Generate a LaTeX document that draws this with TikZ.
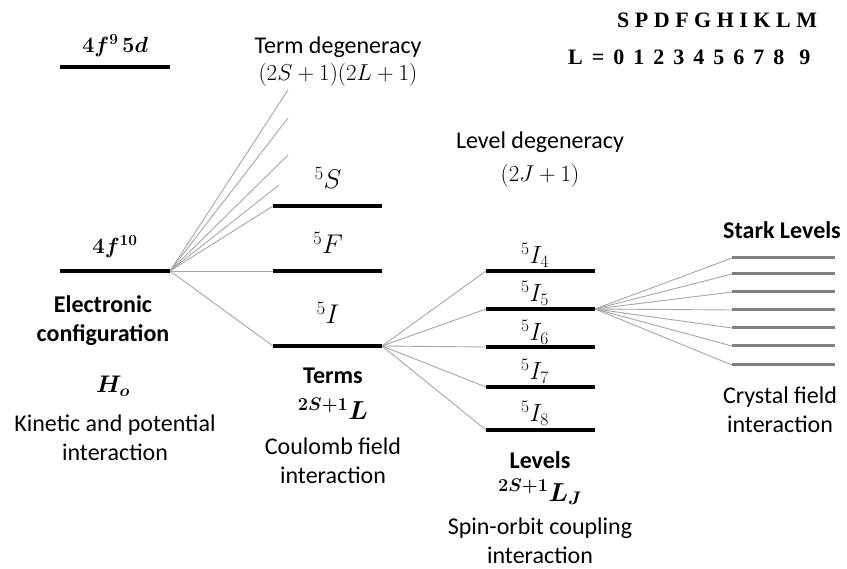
\RequirePackage{fix-cm}
\documentclass[tikz,border=0pt]{standalone}
\usepackage{fontspec}
\usepackage{bm}
\newfontfamily\cfont{Carlito}
\newfontfamily\tnrfont{Liberation Serif}
\begin{document}
\begin{tikzpicture}[x=1pt,y=-1pt,
  bar/.style={line width=4.5pt},
  sbar/.style={line width=3pt, draw=black!50},
  conn/.style={draw=black!35, line width=0.9pt},
  txt/.style={font=\cfont\fontsize{24}{29}\selectfont, align=center, inner sep=0pt},
  btxt/.style={font=\cfont\bfseries\fontsize{24}{29}\selectfont, align=center, inner sep=0pt},
  mtxt/.style={font=\fontsize{23}{28}\selectfont, inner sep=0pt},
  tlab/.style={font=\fontsize{27}{32}\selectfont, inner sep=0pt, anchor=base},
  llab/.style={font=\fontsize{25}{29}\selectfont, inner sep=0pt, anchor=base},
  rowtxt/.style={font=\tnrfont\bfseries\fontsize{22}{26}\selectfont, inner sep=0pt, anchor=west}
  ]
\useasboundingbox (0,0) rectangle (847,569);

% coordinates of bars
\coordinate (a9L) at (60,67);   \coordinate (a9R) at (170,67);
\coordinate (a10L) at (60,271); \coordinate (a10R) at (170,271);
\coordinate (tSL) at (273,206); \coordinate (tSR) at (382,206);
\coordinate (tFL) at (273,271); \coordinate (tFR) at (382,271);
\coordinate (tIL) at (273,346); \coordinate (tIR) at (382,346);
\coordinate (f1) at (288,90);
\coordinate (f2) at (288,118);
\coordinate (f3) at (288,155);
\coordinate (f4) at (279,185);
\foreach \n/\y in {4/271,5/309,6/347,7/387,8/430}{
  \coordinate (l\n L) at (486,\y); \coordinate (l\n R) at (595,\y);
}
\foreach \n/\y in {1/258,2/274,3/292,4/310,5/328,6/346,7/365}{
  \coordinate (s\n L) at (732,\y); \coordinate (s\n R) at (835,\y);
}

% connectors
\foreach \t in {f1,f2,f3,f4,tSL,tFL,tIL} \draw[conn] (a10R) -- (\t);
\foreach \n in {4,5,6,7,8} \draw[conn] (tIR) -- (l\n L);
\foreach \n in {1,...,7} \draw[conn] (l5R) -- (s\n L);

% bars
\draw[bar] (a9L) -- (a9R);
\draw[bar] (a10L) -- (a10R);
\draw[bar] (tSL) -- (tSR);
\draw[bar] (tFL) -- (tFR);
\draw[bar] (tIL) -- (tIR);
\foreach \n in {4,...,8} \draw[bar] (l\n L) -- (l\n R);
\foreach \n in {1,...,7} \draw[sbar] (s\n L) -- (s\n R);

% left column
\node[mtxt, font=\fontsize{22}{26}\selectfont] (c9) at (115,46) {$\bm{4f^{9}\,5d}$};
\node[mtxt, font=\fontsize{22}{26}\selectfont] (c10) at (115,247) {$\bm{4f^{10}}$};
\node[btxt] (ec) at (103,321) {Electronic\\configuration};
\node[mtxt, font=\fontsize{24}{28}\selectfont] (ho) at (113,386) {$\bm{H_o}$};
\node[txt] (kin) at (115,438) {Kinetic and potential\\interaction};

% term column
\node[txt] (tdeg) at (338,47) {Term degeneracy};
\node[mtxt] (tdegf) at (338,75) {$(2S+1)(2L+1)$};
\node[tlab] (lS) at (328,189) {$^5S$};
\node[tlab] (lF) at (328,254) {$^5F$};
\node[tlab] (lI) at (328,324) {$^5I$};
\node[btxt] (terms) at (333,376) {Terms};
\node[mtxt, font=\fontsize{26}{30}\selectfont] (tsym) at (333,409) {$\bm{{}^{2S+1}L}$};
\node[txt] (coul) at (333,461) {Coulomb field\\interaction};

% level column
\node[txt] (ldeg) at (540,142) {Level degeneracy};
\node[mtxt] (ldegf) at (540,176) {$(2J+1)$};
\foreach \n/\y in {4/264,5/302,6/341,7/380,8/422}{
  \node[llab] (lab\n) at (535,\y) {$^5I_{\n}$};
}
\node[btxt] (lev) at (540,460) {Levels};
\node[mtxt, font=\fontsize{26}{30}\selectfont] (lsym) at (540,492) {$\bm{{}^{2S+1}L_J}$};
\node[txt] (so) at (540,541) {Spin-orbit coupling\\interaction};

% stark column
\node[btxt] (stark) at (782,230) {Stark Levels};
\node[txt] (cf) at (780,410) {Crystal field\\interaction};

% top right
\node[rowtxt] (row1) at (617,20) {S P D F G H I K L M};
\node[rowtxt] (row2) at (568,57) {\spaceskip=9pt\relax L = 0 1 2 3 4 5 6 7 8\hspace{6pt} 9};
\end{tikzpicture}
\end{document}
